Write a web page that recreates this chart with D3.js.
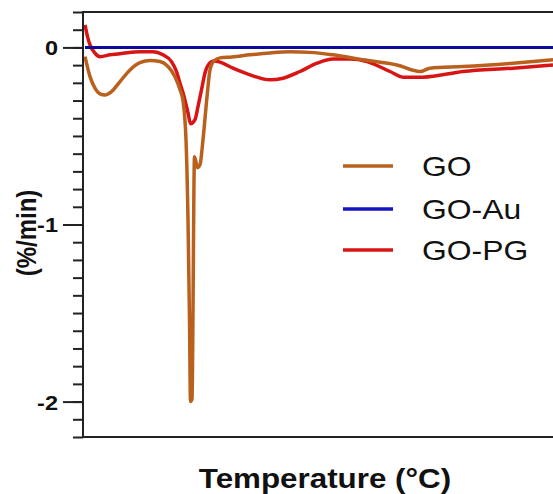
<!DOCTYPE html>
<html>
<head>
<meta charset="utf-8">
<script src="https://cdn.jsdelivr.net/npm/d3@7/dist/d3.min.js"></script>
<style>
  html, body { margin: 0; padding: 0; background: #ffffff; }
  svg { display: block; }
  text { font-family: "Liberation Sans", Arial, sans-serif; fill: #111; }
</style>
</head>
<body>
<svg id="chart" width="553" height="494"></svg>
<script>
// ---- Data (temperature in °C, derivative weight loss in %/min) ----
const seriesNames = ["GO", "GO-Au", "GO-PG"];
const seriesColors = ["#b9601d", "#0c0c96", "#d81414"];

const goTemp = [24, 34, 44, 54, 64, 77, 94, 114, 134, 154, 174, 190, 204, 214, 220, 226, 230, 233, 235, 238, 243, 249, 254, 260, 268, 274, 282, 294, 318, 354, 394, 434, 474, 520, 580, 648, 694, 714, 780, 880, 960];
const goVal  = [-0.052, -0.165, -0.230, -0.262, -0.268, -0.249, -0.193, -0.127, -0.086, -0.074, -0.080, -0.108, -0.165, -0.239, -0.30, -0.521, -0.972, -1.535, -2.0, -1.986, -0.617, -0.679, -0.662, -0.521, -0.279, -0.127, -0.076, -0.059, -0.054, -0.042, -0.031, -0.025, -0.028, -0.042, -0.070, -0.099, -0.136, -0.117, -0.108, -0.089, -0.070];

const goAuTemp = [24, 100, 200, 300, 400, 500, 600, 700, 800, 900, 960];
const goAuVal  = [0, 0, 0, 0, 0, 0, 0, 0, 0, 0, 0];

const goPgTemp = [24, 29, 34, 44, 54, 74, 100, 134, 160, 180, 197, 207, 214, 220, 230, 235, 244, 250, 257, 264, 274, 282, 294, 320, 354, 394, 420, 454, 488, 520, 554, 588, 634, 660, 700, 780, 880, 960];
const goPgVal  = [0.127, 0.061, 0.014, -0.033, -0.052, -0.042, -0.033, -0.024, -0.024, -0.042, -0.080, -0.136, -0.202, -0.256, -0.369, -0.431, -0.408, -0.334, -0.239, -0.144, -0.087, -0.076, -0.083, -0.117, -0.155, -0.183, -0.174, -0.136, -0.089, -0.066, -0.066, -0.080, -0.136, -0.168, -0.168, -0.136, -0.117, -0.099];

const yMajorTicks = [0, -1, -2];
const yTickLabels = ["0", "-1", "-2"];
const yMinorTicks = [0.2, 0.1, 0, -0.1, -0.2, -0.3, -0.4, -0.5, -0.6, -0.7, -0.8, -0.9, -1, -1.1, -1.2, -1.3, -1.4, -1.5, -1.6, -1.7, -1.8, -1.9, -2, -2.1, -2.2];

const xTitle = "Temperature (°C)";
const yTitle = "(%/min)";

// ---- Layout ----
const mLeft = 83, mRight = 553, mTop = 12, mBottom = 437;
const svg = d3.select("#chart");

const x = d3.scaleLinear().domain([20, 960]).range([mLeft, mRight]);
const y = d3.scaleLinear().domain([-2.2, 0.2]).range([mBottom, mTop]);

// Top border
svg.append("line")
  .attr("x1", mLeft).attr("x2", mRight + 2)
  .attr("y1", mTop).attr("y2", mTop)
  .attr("stroke", "#222").attr("stroke-width", 2);
// Bottom axis line
svg.append("line")
  .attr("x1", mLeft).attr("x2", mRight + 2)
  .attr("y1", mBottom).attr("y2", mBottom)
  .attr("stroke", "#222").attr("stroke-width", 2);

// Minor ticks
const minorAxis = d3.axisLeft(y).tickValues(yMinorTicks).tickSize(10).tickFormat("");
const gMinor = svg.append("g").attr("transform", `translate(${mLeft},0)`).call(minorAxis);
gMinor.selectAll("line").attr("stroke", "#222").attr("stroke-width", 2);
gMinor.select(".domain").remove();

// Major ticks (labels drawn separately for horizontal stretch)
const majorAxis = d3.axisLeft(y).tickValues(yMajorTicks).tickSize(20).tickFormat("");
const gMajor = svg.append("g").attr("transform", `translate(${mLeft},0)`).call(majorAxis);
gMajor.select(".domain").remove();
gMajor.selectAll("line").attr("stroke", "#222").attr("stroke-width", 2);
yMajorTicks.forEach((v, i) => {
  svg.append("g")
    .attr("transform", `translate(58,${y(v)}) scale(1.12,1)`)
    .append("text")
    .attr("text-anchor", "end")
    .attr("dy", "0.38em")
    .attr("font-size", 21).attr("font-weight", "bold")
    .text(yTickLabels[i]);
});

// Left spine
svg.append("line")
  .attr("x1", mLeft).attr("x2", mLeft)
  .attr("y1", mTop - 1).attr("y2", mBottom + 1)
  .attr("stroke", "#222").attr("stroke-width", 2);

// ---- Lines ----
const line = d3.line().x(d => x(d[0])).y(d => y(d[1])).curve(d3.curveMonotoneX);
const series = [
  { name: "GO-PG", t: goPgTemp, v: goPgVal, color: seriesColors[2] },
  { name: "GO", t: goTemp, v: goVal, color: seriesColors[0] },
  { name: "GO-Au", t: goAuTemp, v: goAuVal, color: seriesColors[1] }
];
svg.append("defs").append("clipPath").attr("id", "clip")
  .append("rect").attr("x", mLeft + 1).attr("y", mTop).attr("width", mRight - mLeft).attr("height", mBottom - mTop);
const gLines = svg.append("g").attr("clip-path", "url(#clip)");
series.forEach(s => {
  gLines.append("path")
    .datum(s.t.map((t, i) => [t, s.v[i]]))
    .attr("fill", "none")
    .attr("stroke", s.color)
    .attr("stroke-width", s.name === "GO-Au" ? 3 : 3.5)
    .attr("stroke-linejoin", "round")
    .attr("d", line);
});

// ---- Legend ----
const legendY = [166, 209, 250];
const legendColors = ["#b9601d", "#1414c0", "#d81414"];
seriesNames.forEach((name, i) => {
  svg.append("line")
    .attr("x1", 343).attr("x2", 393)
    .attr("y1", legendY[i]).attr("y2", legendY[i])
    .attr("stroke", legendColors[i]).attr("stroke-width", 3.5);
  svg.append("g")
    .attr("transform", `translate(422,${legendY[i] + 10}) scale(1.18,1)`)
    .append("text")
    .attr("font-size", 27)
    .text(name);
});

// ---- Axis titles ----
svg.append("g")
  .attr("transform", "translate(325,488) scale(1.12,1)")
  .append("text")
  .attr("text-anchor", "middle")
  .attr("font-size", 28).attr("font-weight", "bold")
  .text(xTitle);

svg.append("g")
  .attr("transform", "translate(36,233) rotate(-90) scale(1,1.12)")
  .append("text")
  .attr("text-anchor", "middle")
  .attr("font-size", 24).attr("font-weight", "bold")
  .text(yTitle);
</script>
</body>
</html>
